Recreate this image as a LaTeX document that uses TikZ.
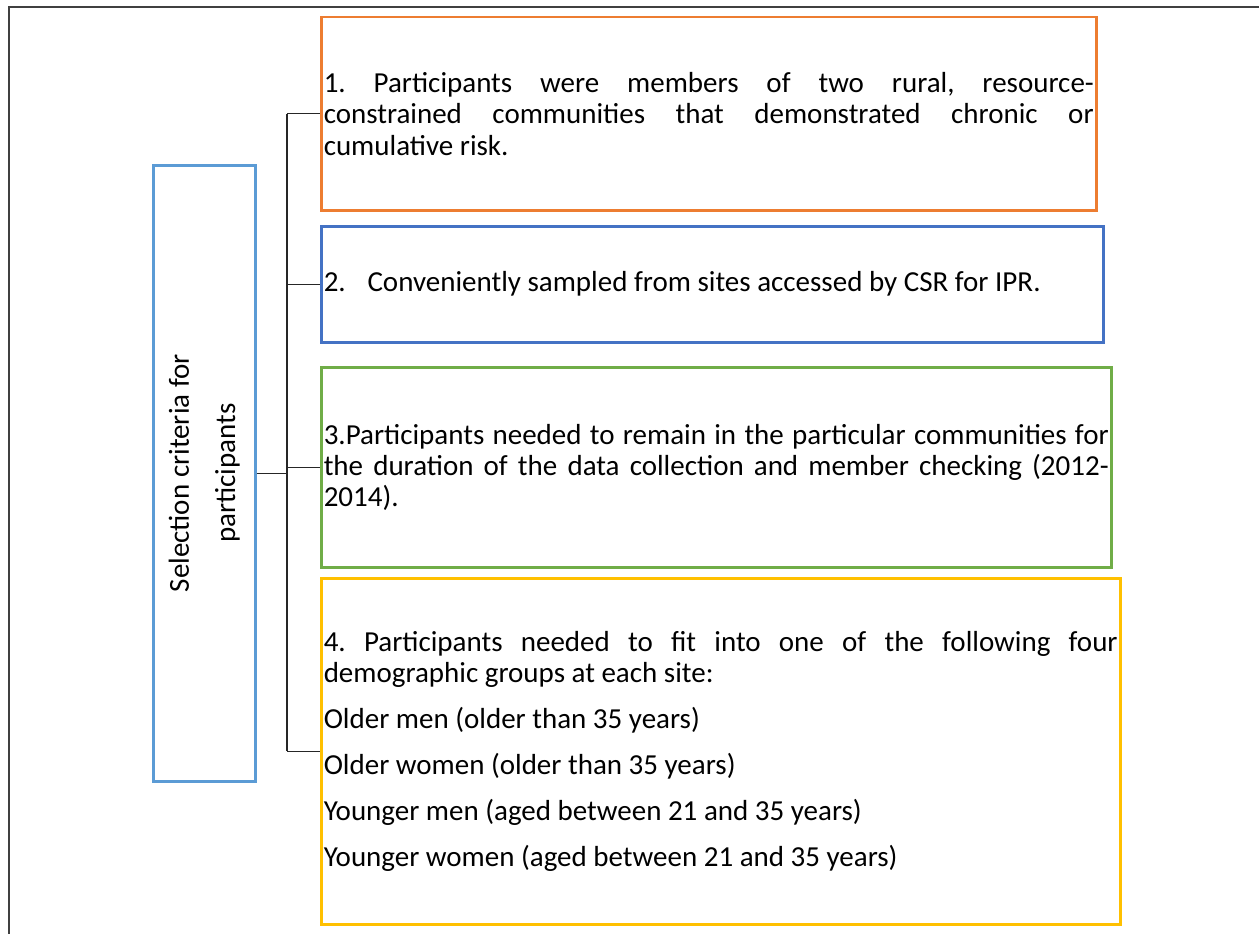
\documentclass[tikz,border=0pt]{standalone}
\usepackage{fontspec}
\setmainfont{Carlito}
\definecolor{boxorange}{HTML}{ED7D31}
\definecolor{boxblue}{HTML}{4472C4}
\definecolor{boxgreen}{HTML}{70AD47}
\definecolor{boxgold}{HTML}{FFC000}
\definecolor{boxsky}{HTML}{5B9BD5}
\definecolor{framegray}{HTML}{404040}
\begin{document}
\begin{tikzpicture}[x=1pt,y=-1pt,
  every node/.style={font=\fontsize{29}{31.3}\selectfont\frenchspacing},
  critbox/.style={draw=#1, line width=2.5pt, anchor=north west, inner sep=0pt},
  itembox/.style={draw=#1, line width=2.5pt, anchor=north west, inner xsep=2.5pt, inner ysep=0pt,
    align=justify},
  conn/.style={draw=black!85, line width=1.4pt},
  frameline/.style={draw=framegray, line width=2pt}]
  \useasboundingbox (0,0) rectangle (1259,934);
  % outer frame
  \draw[frameline] (9,934) -- (9,7) -- (1259,7);

  % category box
  \node[critbox=boxsky, minimum width=102pt, minimum height=616pt] (crit) at (152,164) {};
  \node[rotate=90, align=center] (critlabel) at (crit.center) {Selection criteria for\\[15pt]participants};

  % criteria boxes
  \node[itembox=boxorange, minimum width=775pt, minimum height=193pt, text width=770pt] (b1) at (320,16)
    {\tolerance=10000 \emergencystretch=20pt 1. Participants were members of two rural, resource-\linebreak constrained communities that demonstrated chronic or\linebreak cumulative risk.};
  \node[itembox=boxblue, minimum width=782pt, minimum height=116pt, text width=777pt] (b2) at (320,225)
    {2.\hspace{0.75em}Conveniently sampled from sites accessed by CSR for IPR.};
  \node[itembox=boxgreen, minimum width=790pt, minimum height=200pt, text width=785pt] (b3) at (320,366)
    {\tolerance=10000 \emergencystretch=20pt 3.Participants needed to remain in the particular communities for\linebreak the duration of the data collection and member checking (2012-\linebreak 2014).};
  \node[itembox=boxgold, minimum width=799pt, minimum height=346pt, text width=794pt] (b4) at (320,577)
    {\tolerance=10000 \emergencystretch=20pt 4. Participants needed to fit into one of the following four\linebreak demographic groups at each site:\par\vspace{14.5pt}
     Older men (older than 35 years)\par\vspace{14.5pt}
     Older women (older than 35 years)\par\vspace{14.5pt}
     Younger men (aged between 21 and 35 years)\par\vspace{14.5pt}
     Younger women (aged between 21 and 35 years)};

  % bracket connectors
  \coordinate (bus) at (287,0);
  \draw[conn] (crit.east) -- (crit.east -| bus);
  \draw[conn] (b1.west -| bus) -- (b4.west -| bus);
  \draw[conn] (b1.west -| bus) -- (b1.west);
  \draw[conn] (b2.west -| bus) -- (b2.west);
  \draw[conn] (b3.west -| bus) -- (b3.west);
  \draw[conn] (b4.west -| bus) -- (b4.west);
\end{tikzpicture}
\end{document}
